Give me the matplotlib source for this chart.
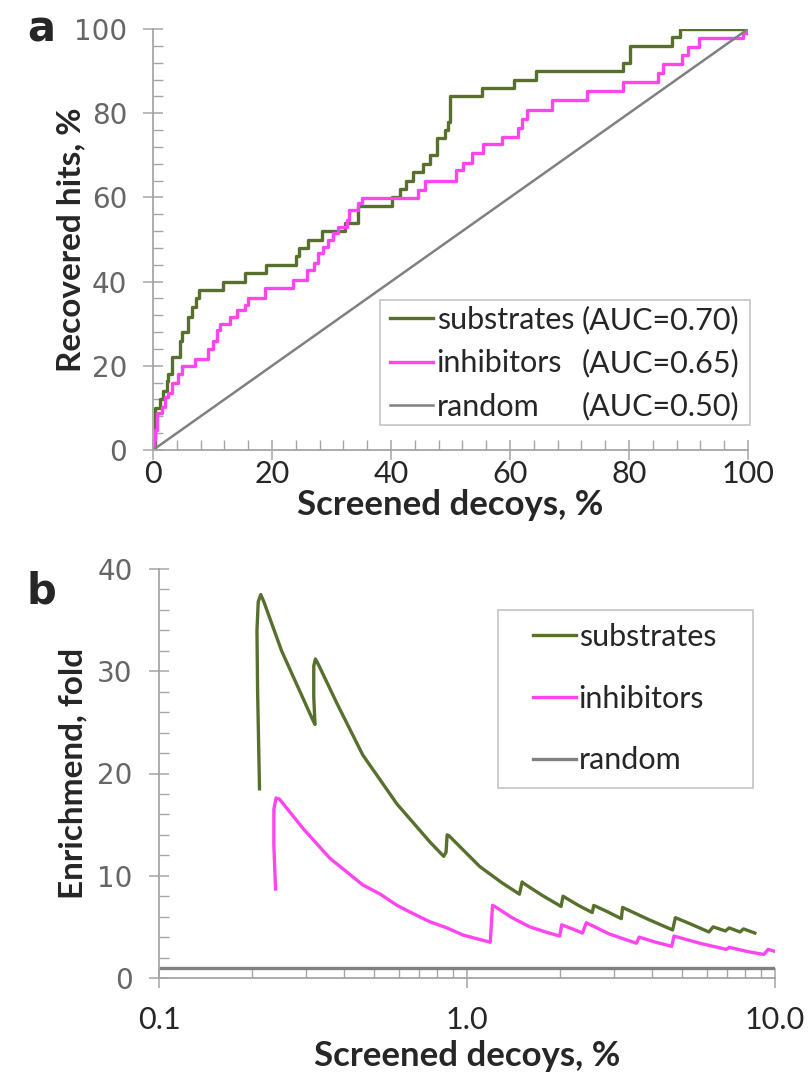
import matplotlib
matplotlib.use("Agg")
import matplotlib.pyplot as plt
from matplotlib.ticker import MultipleLocator, LogLocator, FixedLocator, FixedFormatter, NullFormatter
from matplotlib.patches import Rectangle

# ---------------- data: panel a (ROC) ----------------
sub_x = [0, 0.3, 0.4, 1.2, 1.7, 2.3, 2.6, 3.2, 4.5, 4.8, 5.8, 6.5, 7.2, 7.8, 11.8, 15.5, 19.0,
         24.0, 24.6, 26.0, 28.4, 32.3, 34.4, 40.1, 41.5, 42.6, 43.7, 45.4, 46.6, 47.7, 49.1,
         49.5, 49.9, 55.3, 60.6, 64.4, 79.0, 80.2, 87.2, 88.5, 100]
sub_y = [0, 5, 10, 12, 14, 16.5, 18, 22, 26, 28, 31.5, 34, 36, 38, 40, 42, 44,
         46, 48, 50, 52, 54, 58, 60, 62, 64, 66, 68, 70, 74, 76,
         78, 84, 86, 88, 90, 92, 96, 98, 100, 100]
inh_x = [0, 0.2, 0.4, 0.6, 1.5, 2.0, 2.5, 3.2, 4.2, 4.9, 7.1, 9.3, 10.1, 10.8, 11.3, 13.0,
         14.1, 15.5, 15.9, 18.8, 23.6, 25.8, 27.0, 27.7, 28.5, 29.4, 30.3, 31.1, 32.6, 33.0,
         34.5, 35.1, 44.5, 45.7, 51.0, 52.1, 53.6, 55.5, 58.7, 61.3, 62.0, 62.8, 67.0, 73.0,
         79.0, 84.8, 85.7, 88.9, 89.9, 91.7, 99.2, 100]
inh_y = [0, 2.4, 4.7, 8.8, 10.2, 12.6, 13.5, 16, 18, 20, 21.5, 24, 26, 28.5, 30, 31.6,
         33.3, 34.4, 36, 38.4, 40.4, 42.8, 44.3, 46.7, 48.3, 50, 51.5, 53, 54.6, 57,
         58.6, 59.8, 61.8, 64, 66.5, 68.1, 70.5, 72.6, 74.4, 76.6, 78.6, 80.8, 83.1, 85.3,
         87.4, 89.6, 91.6, 93.8, 95.8, 97.8, 99, 100]
rnd_x = [0, 100]
rnd_y = [0, 100]
roc_names = ["substrates", "inhibitors", "random"]
roc_auc = ["0.70", "0.65", "0.50"]
a_xticks = [0, 20, 40, 60, 80, 100]
a_yticks = [0, 20, 40, 60, 80, 100]

# ---------------- data: panel b (enrichment) ----------------
ef_sub_x = [0.212, 0.209, 0.208, 0.210, 0.214, 0.219, 0.25, 0.287, 0.315, 0.321, 0.318, 0.318,
            0.322, 0.33, 0.379, 0.459, 0.593, 0.758, 0.84, 0.855, 0.862, 0.875, 1.10, 1.30,
            1.48, 1.51, 1.52, 1.75, 2.02, 2.05, 2.30, 2.55, 2.58, 2.85, 3.17, 3.20, 3.9,
            4.65, 4.75, 5.4, 6.1, 6.3, 6.9, 7.1, 7.7, 7.9, 8.6]
ef_sub_y = [18.5, 28, 34, 36.8, 37.5, 36.8, 32.0, 28.0, 25.3, 24.8, 27.5, 30.5,
            31.2, 30.6, 26.8, 21.8, 17.0, 13.3, 11.9, 12.3, 14.0, 13.9, 10.9, 9.3,
            8.2, 9.4, 9.3, 8.1, 7.0, 8.0, 7.1, 6.4, 7.1, 6.5, 5.8, 6.9, 5.7,
            4.7, 5.9, 5.2, 4.5, 5.0, 4.6, 4.9, 4.5, 4.8, 4.4]
ef_inh_x = [0.239, 0.236, 0.236, 0.24, 0.246, 0.294, 0.359, 0.459, 0.523, 0.593, 0.668, 0.758,
            0.861, 0.97, 1.19, 1.21, 1.23, 1.40, 1.60, 1.80, 2.00, 2.03, 2.20, 2.37, 2.44,
            2.9, 3.55, 3.62, 4.1, 4.62, 4.70, 5.7, 6.95, 7.1, 8.1, 9.2, 9.5, 10.0]
ef_inh_y = [8.7, 13, 16.5, 17.6, 17.5, 14.6, 11.7, 9.1, 8.2, 7.1, 6.3, 5.5,
            4.9, 4.2, 3.5, 7.1, 7.0, 5.9, 5.0, 4.5, 4.1, 5.2, 4.8, 4.4, 5.4,
            4.3, 3.4, 4.0, 3.5, 3.1, 4.1, 3.4, 2.8, 3.0, 2.6, 2.3, 2.8, 2.6]
ef_rnd_x = [0.1, 10]
ef_rnd_y = [1, 1]
b_xticks = [0.1, 1.0, 10.0]
b_xticklabels = ["0.1", "1.0", "10.0"]
b_yticks = [0, 10, 20, 30, 40]

GREEN = "#58702e"
MAGENTA = "#ff44f0"
GRAY = "#808080"
AXC = "#a6a6a6"
SANS = "Lato"
TXT = "#262626"
LEGFS = 22

fig = plt.figure(figsize=(8.09, 10.83), dpi=100)

def style_axes(ax, ypad):
    for s in ("top", "right"):
        ax.spines[s].set_visible(False)
    for s in ("left", "bottom"):
        ax.spines[s].set_color(AXC)
        ax.spines[s].set_linewidth(1.3)
    ax.tick_params(which="major", direction="inout", length=14, width=1.1, color=AXC)
    ax.tick_params(which="minor", direction="in", length=7, width=1.0, color=AXC)
    ax.tick_params(axis="y", which="major", labelsize=20, labelcolor="#666666", pad=ypad)
    ax.tick_params(axis="x", which="major", labelsize=22, labelcolor=TXT)
    for lab in ax.get_yticklabels():
        lab.set_family("DejaVu Sans")
    for lab in ax.get_xticklabels():
        lab.set_family(SANS)

# ---------------- panel a ----------------
axa = fig.add_axes([153/809, 1-450/1083, 595/809, 421/1083])
axa.step(sub_x, sub_y, where="post", color=GREEN, lw=2.4, label=roc_names[0])
axa.step(inh_x, inh_y, where="post", color=MAGENTA, lw=2.4, label=roc_names[1])
axa.plot(rnd_x, rnd_y, color=GRAY, lw=1.8, label=roc_names[2])
axa.set_xlim(0, 100)
axa.set_ylim(0, 100)
axa.set_xticks(a_xticks)
axa.set_yticks(a_yticks)
axa.xaxis.set_minor_locator(MultipleLocator(4))
axa.yaxis.set_minor_locator(MultipleLocator(4))
style_axes(axa, 11.5)
axa.tick_params(axis="x", which="major", pad=0)
axa.set_xlabel("Screened decoys, %", fontsize=25, fontweight="bold", family=SANS, color=TXT)
axa.xaxis.set_label_coords(0.5, -0.093)
axa.set_ylabel("Recovered hits, %", fontsize=24, fontweight="bold", family=SANS, color=TXT)
axa.yaxis.set_label_coords(-0.114, 0.5)

leg_a = axa.legend(loc="upper left", bbox_to_anchor=(0.398, 0.342), borderaxespad=0,
                   frameon=False, prop={"family": SANS, "size": LEGFS}, handlelength=1.4,
                   handletextpad=0.13, labelspacing=0.5, borderpad=0)
for t in leg_a.get_texts():
    t.set_color(TXT)
axa.add_patch(Rectangle((0.3815, 0.0594), 1.0034 - 0.3815, 0.3563 - 0.0594,
                        transform=axa.transAxes, fill=True, facecolor="white",
                        edgecolor="#c8c8c8", lw=1.3, clip_on=False, zorder=4))
leg_a.set_zorder(6)

fig.canvas.draw()
inv = axa.transAxes.inverted()
for t, a in zip(leg_a.get_texts(), roc_auc):
    tb = t.get_window_extent()
    ymid = (tb.y0 + tb.y1) / 2
    _, ya = inv.transform((tb.x0, ymid))
    axa.text(0.721, ya, "(AUC=%s)" % a, ha="left", va="center",
             family=SANS, fontsize=LEGFS, color=TXT, transform=axa.transAxes, zorder=10)

# ---------------- panel b ----------------
axb = fig.add_axes([159/809, 1-978/1083, 616/809, 409/1083])
axb.plot(ef_sub_x, ef_sub_y, color=GREEN, lw=2.4, label="substrates")
axb.plot(ef_inh_x, ef_inh_y, color=MAGENTA, lw=2.4, label="inhibitors")
axb.plot(ef_rnd_x, ef_rnd_y, color=GRAY, lw=2.4, label="random")
axb.set_xscale("log")
axb.set_xlim(0.1, 10)
axb.set_ylim(0, 40)
axb.xaxis.set_major_locator(FixedLocator(b_xticks))
axb.xaxis.set_major_formatter(FixedFormatter(b_xticklabels))
axb.xaxis.set_minor_locator(LogLocator(base=10, subs=range(2, 10)))
axb.xaxis.set_minor_formatter(NullFormatter())
axb.set_yticks(b_yticks)
axb.yaxis.set_minor_locator(MultipleLocator(2))
style_axes(axb, 12)
axb.tick_params(axis="x", which="major", pad=13)
axb.set_xlabel("Screened decoys, %", fontsize=25, fontweight="bold", family=SANS, color=TXT)
axb.xaxis.set_label_coords(0.5, -0.152)
axb.set_ylabel("Enrichmend, fold", fontsize=24, fontweight="bold", family=SANS, color=TXT)
axb.yaxis.set_label_coords(-0.117, 0.5)

leg_b = axb.legend(loc="upper left", bbox_to_anchor=(0.607, 0.868), borderaxespad=0,
                   frameon=False, prop={"family": SANS, "size": LEGFS}, handlelength=1.4,
                   handletextpad=0.1, labelspacing=1.1, borderpad=0)
for t in leg_b.get_texts():
    t.set_color(TXT)
axb.add_patch(Rectangle((0.550, 0.4645), 0.964 - 0.550, 0.900 - 0.4645,
                        transform=axb.transAxes, fill=True, facecolor="white",
                        edgecolor="#c8c8c8", lw=1.3, clip_on=False, zorder=4))
leg_b.set_zorder(6)

# panel letters
fig.text(41/809, 1-29/1083, "a", fontsize=30, fontweight="bold", family="DejaVu Sans",
         ha="center", va="center", color=TXT)
fig.text(41/809, 1-591/1083, "b", fontsize=30, fontweight="bold", family="DejaVu Sans",
         ha="center", va="center", color=TXT)

fig.savefig("out.png", dpi=100)
